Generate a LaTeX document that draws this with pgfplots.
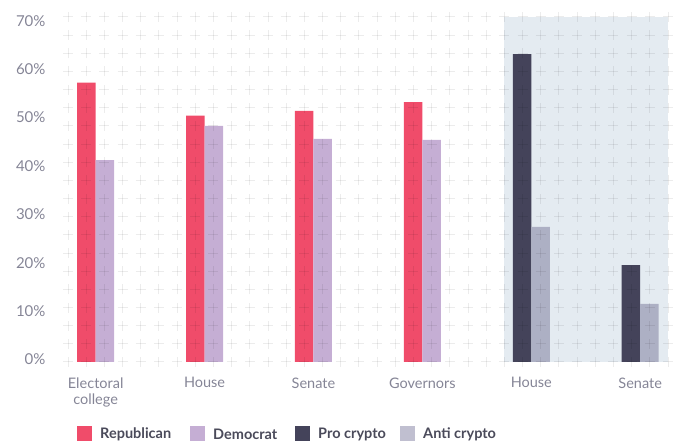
\documentclass[border=0pt]{standalone}
\usepackage{pgfplots}
\pgfplotsset{compat=1.18}
\usepackage{fontspec}
\setmainfont{Lato}
\definecolor{rep}{HTML}{F04C6A}
\definecolor{dem}{HTML}{C5AED4}
\definecolor{pro}{HTML}{44435A}
\definecolor{anti}{HTML}{ADB0C4}
\definecolor{antileg}{HTML}{C0BFD0}
\definecolor{bgshade}{HTML}{E4EBF1}
\definecolor{ticktext}{HTML}{858596}
\definecolor{legtext}{HTML}{4A4A5A}
\begin{document}
\begin{tikzpicture}
\useasboundingbox (0,0) rectangle (678pt,441pt);
\begin{axis}[
  at={(68pt,79pt)}, anchor=south west,
  scale only axis, width=600pt, height=345pt,
  xmin=-0.254, xmax=5.255, ymin=0, ymax=71.28,
  axis line style={draw=none},
  tick style={draw=none},
  xtick={0,1,2,3,4,5},
  xticklabels={Electoral\\college, House, Senate, Governors, House, Senate},
  xticklabel style={align=center, font=\fontsize{14.5}{16.5}\selectfont, text=ticktext, yshift=-12pt},
  ytick={0,10,20,30,40,50,60,70},
  yticklabel={\pgfmathprintnumber{\tick}\%},
  yticklabel style={font=\fontsize{15}{17}\selectfont, text=ticktext, anchor=east, xshift=-19pt, yshift=2.5pt},
  /pgf/number format/assume math mode=true,
  clip=false,
]
\fill[bgshade] (axis cs:3.75,0) rectangle (axis cs:5.255,71.28);
\addplot[ybar, bar width=18.5pt, bar shift=-9.25pt, fill=rep, draw=none] coordinates {(0,57.7) (1,50.9) (2,51.9) (3,53.7)};
\addplot[ybar, bar width=18.5pt, bar shift=9.25pt, fill=dem, draw=none] coordinates {(0,41.7) (1,48.8) (2,46.1) (3,45.9)};
\addplot[ybar, bar width=18.5pt, bar shift=-9.25pt, fill=pro, draw=none] coordinates {(4,63.6) (5,20.0)};
\addplot[ybar, bar width=18.5pt, bar shift=9.25pt, fill=anti, draw=none] coordinates {(4,27.9) (5,12.0)};
\end{axis}
\begin{scope}[x=1pt, y=1pt]
\foreach \i in {0,...,33} {
  \foreach \j in {0,...,19} {
    \pgfmathsetmacro\cx{68+\i*18.1818}
    \pgfmathsetmacro\cy{79+\j*18.1579}
    \draw[black, opacity=0.075, line width=1pt] (\cx-5,\cy) -- (\cx+5,\cy);
    \draw[black, opacity=0.075, line width=1pt] (\cx,\cy-5) -- (\cx,\cy+5);
  }
}
\end{scope}
\begin{scope}[every node/.style={anchor=west, inner sep=0pt, font=\fontsize{14.5}{16}\selectfont\bfseries, text=legtext}]
\fill[rep] (77pt,0pt) rectangle (92pt,15pt); \node at (100pt,7pt) {Republican};
\fill[dem] (190pt,0pt) rectangle (205pt,15pt); \node at (213pt,7pt) {Democrat};
\fill[pro] (295pt,0pt) rectangle (310pt,15pt); \node at (318pt,7pt) {Pro crypto};
\fill[antileg] (400pt,0pt) rectangle (415pt,15pt); \node at (423pt,7pt) {Anti crypto};
\end{scope}
\end{tikzpicture}
\end{document}
